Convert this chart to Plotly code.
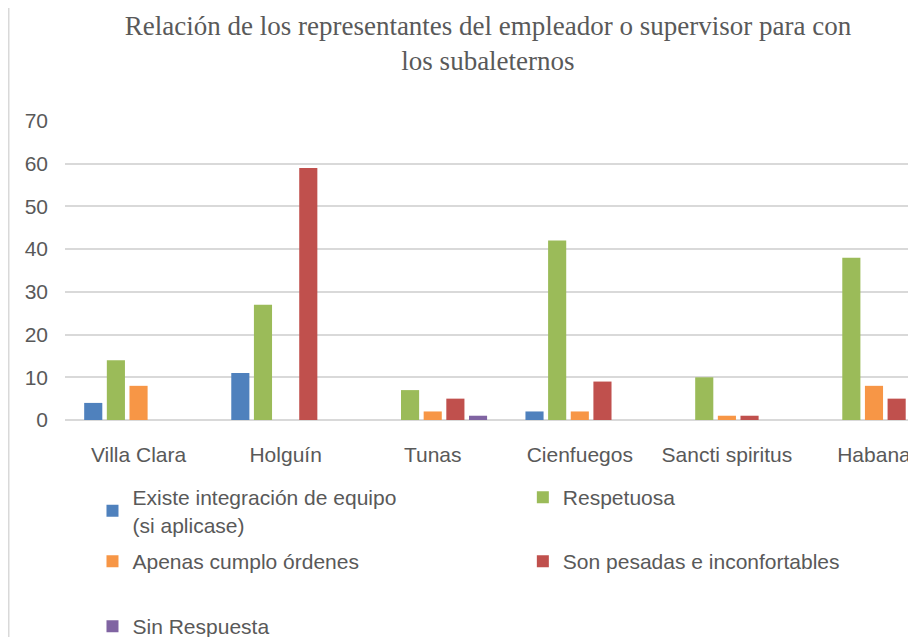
import plotly.graph_objects as go

categories = ["Villa Clara", "Holguín", "Tunas", "Cienfuegos", "Sancti spiritus", "Habana"]
series_names = [
    "Existe integración de equipo<br>(si aplicase)",
    "Respetuosa",
    "Apenas cumplo órdenes",
    "Son pesadas e inconfortables",
    "Sin Respuesta",
]
existe = [4, 11, 0, 2, 0, 0]
respetuosa = [14, 27, 7, 42, 10, 38]
apenas = [8, 0, 2, 2, 1, 8]
pesadas = [0, 59, 5, 9, 1, 5]
sin_resp = [0, 0, 1, 0, 0, 0]
y_ticks = [0, 10, 20, 30, 40, 50, 60, 70]

colors = ["#4F81BD", "#9BBB59", "#F79646", "#C0504D", "#8064A2"]
values = [existe, respetuosa, apenas, pesadas, sin_resp]
legend_ids = ["legend", "legend2", "legend3", "legend4", "legend5"]

fig = go.Figure()
for name, vals, col, lg in zip(series_names, values, colors, legend_ids):
    fig.add_trace(go.Bar(x=categories, y=vals, name=name, legend=lg, showlegend=True,
                         marker=dict(color=col, line=dict(width=0))))

font_main = "Liberation Sans, Arial, sans-serif"
leg_font = dict(size=21, color="#595959", family=font_main)
col1_x, col2_x = 0.032, 0.533
row_y = [-0.1906, -0.4047, -0.6221]


def leg(x, y):
    return dict(x=x, xanchor="left", y=y, yanchor="top", font=leg_font,
                bgcolor="rgba(0,0,0,0)", itemsizing="constant", visible=True)


fig.update_layout(
    width=916, height=637,
    showlegend=True,
    margin=dict(l=57, r=0, t=113, b=225, autoexpand=False),
    paper_bgcolor="white", plot_bgcolor="white",
    barmode="group", bargap=0.23, bargroupgap=0.2,
    title=dict(
        text="Relación de los representantes del empleador o supervisor para con<br>los subaleternos",
        font=dict(family="Liberation Serif, Times New Roman, serif", size=27, color="#595959"),
        x=0.524, xanchor="center", yref="container", y=0.958, yanchor="middle",
    ),
    font=dict(family=font_main, color="#595959", size=21),
    xaxis=dict(range=[-0.5, 5.34], showgrid=False, showline=False, ticks="", automargin=False,
               tickfont=dict(size=21, color="#595959"), ticklabelstandoff=20),
    yaxis=dict(range=[0, 70], tickvals=y_ticks, showgrid=True, gridcolor="#D9D9D9",
               gridwidth=1.5, zeroline=True, zerolinecolor="#D9D9D9", zerolinewidth=1.5,
               showline=False, ticks="", automargin=False,
               tickfont=dict(size=21, color="#595959"), ticklabelstandoff=16),
    legend=leg(col1_x, row_y[0]),
    legend2=leg(col2_x, row_y[0]),
    legend3=leg(col1_x, row_y[1]),
    legend4=leg(col2_x, row_y[1]),
    legend5=leg(col1_x, row_y[2]),
    shapes=[dict(type="line", xref="paper", yref="paper", x0=-0.0655, x1=-0.0655,
                 y0=-0.76, y1=1.38, line=dict(color="#D9D9D9", width=1.5))],
)

fig.write_html("out.html")
